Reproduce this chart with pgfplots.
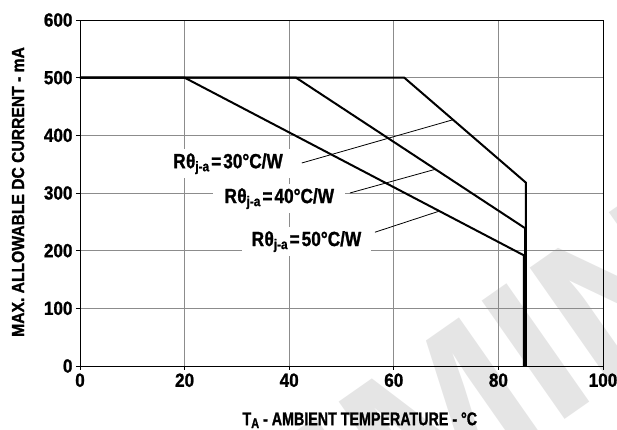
\documentclass[border=0pt]{standalone}
\usepackage{fontspec}
\setmainfont{Liberation Sans}
\newfontfamily\fy{Liberation Sans Bold}[FakeStretch=0.9, FakeBold=1.2]
\newfontfamily\fx{Liberation Sans Bold}[FakeStretch=0.78, FakeBold=1.2]
\newfontfamily\fl{Liberation Sans Bold}[FakeStretch=0.84, FakeBold=1.2]
\newfontfamily\ft{Liberation Sans Bold}[FakeStretch=0.9, FakeBold=1.2]
\newfontfamily\fw{Liberation Sans Bold}
\usepackage{pgfplots}
\pgfplotsset{compat=1.18}
\newcommand{\rlab}[1]{R\kern0.02em θ\raisebox{-0.28ex}{\fontsize{14}{14}\selectfont j-a}\kern0.1em=\kern0.1em#1°C/W}
\begin{document}
\begin{tikzpicture}
\node[rotate=35, text=black!10, font=\fw\fontsize{210}{210}\selectfont] at (372pt,-45pt) {PRELIMINARY};
\begin{axis}[
  scale only axis, width=523pt, height=346pt,
  xmin=0, xmax=100, ymin=0, ymax=600,
  xtick={0,20,...,100}, ytick={0,100,...,600},
  grid=major, grid style={black!45, line width=0.8pt},
  axis line style={line width=0.9pt},
  tick align=outside, tick pos=left, major tick length=4pt,
  every tick/.style={black, line width=0.8pt},
  /pgf/number format/assume math mode=true,
  ticklabel style={font=\ft\fontsize{19}{19}\selectfont},
  xlabel={T\raisebox{-0.3ex}{\fontsize{14}{14}\selectfont A} - AMBIENT TEMPERATURE - °C},
  ylabel={MAX. ALLOWABLE DC CURRENT - mA},
  xlabel style={font=\fx\fontsize{18.3}{18}\selectfont, at={(axis description cs:0.535,-0.171)}, anchor=base},
  ylabel style={font=\fy\fontsize{17.4}{18}\selectfont, at={(axis description cs:-0.1185,0.503)}, anchor=center},
  clip=false,
]
\addplot[line width=2pt, black] coordinates {(0,500) (20,500) (84.85,192) (84.85,0)};
\addplot[line width=2pt, black] coordinates {(0,500) (41.3,500) (85.1,239) (85.1,0)};
\addplot[line width=2pt, black] coordinates {(0,500) (62,500) (85.25,318) (85.25,0)};
\node[fill=white, inner xsep=11pt, inner ysep=4pt, anchor=base, font=\fl\fontsize{20.5}{20}\selectfont] at (axis cs:28.3,343) {\rlab{30}};
\node[fill=white, inner xsep=11pt, inner ysep=4pt, anchor=base, font=\fl\fontsize{20.5}{20}\selectfont] at (axis cs:38.1,282.5) {\rlab{40}};
\node[fill=white, inner xsep=10pt, inner ysep=4pt, anchor=base, font=\fl\fontsize{20.5}{20}\selectfont] at (axis cs:43.3,208) {\rlab{50}};
\draw[line width=0.8pt] (axis cs:42.4,352) -- (axis cs:71.3,427);
\draw[line width=0.8pt] (axis cs:51.6,300) -- (axis cs:67.9,341);
\draw[line width=0.8pt] (axis cs:56.4,232) -- (axis cs:68.5,268);
\coordinate (sw) at (rel axis cs:0,0);
\coordinate (ne) at (rel axis cs:1,1);
\end{axis}
\pgfresetboundingbox
\path ([shift={(-80pt,-64pt)}]sw) rectangle ([shift={(14pt,20pt)}]ne);
\end{tikzpicture}
\end{document}
